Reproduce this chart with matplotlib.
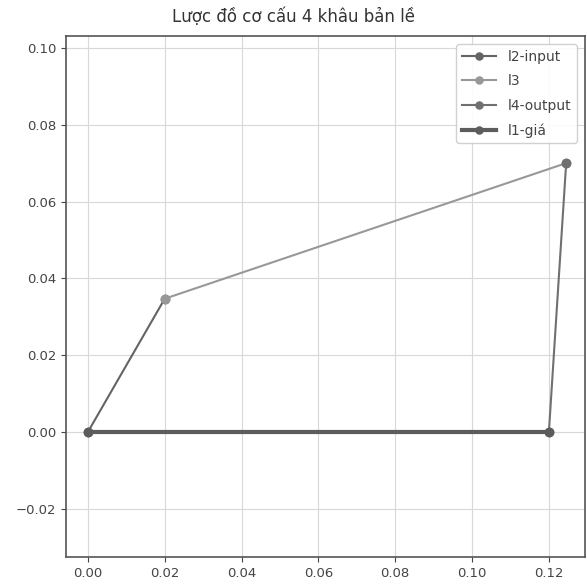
import numpy as np
import matplotlib.pyplot as plt

# toa do cac khop (m)
A = (0.0, 0.0)
B = (0.02, 0.0347)
C = (0.1245, 0.07)
D = (0.12, 0.0)

links = ['l2-input', 'l3', 'l4-output', 'l1-giá']
pairs = [(A, B), (B, C), (C, D), (D, A)]
colors = ['#646464', '#989898', '#707070', '#5c5c5c']
widths = [1.5, 1.5, 1.5, 3.0]

fig = plt.figure(figsize=(5.87, 5.88), dpi=100)
ax = fig.add_axes([66 / 587, 31 / 588, 519 / 587, 521 / 588])

for name, (p, q), c, w in zip(links, pairs, colors, widths):
    ax.plot([p[0], q[0]], [p[1], q[1]], '-o', color=c, lw=w, ms=6, label=name)

ax.set_xlim(-0.0057, 0.1294)
ax.set_ylim(-0.03255, 0.1031)
ax.set_xticks(np.arange(0, 0.121, 0.02))
ax.set_yticks(np.arange(-0.02, 0.101, 0.02))
ax.tick_params(labelsize=9.5, colors='#444444')
ax.grid(True, color='#d8d8d8')
for s in ax.spines.values():
    s.set_color('#555555')
    s.set_linewidth(1.2)
fig.text(0.5, 1 - 17 / 588, 'Lược đồ cơ cấu 4 khâu bản lề', fontsize=12,
         color='#333333', ha='center', va='center')
ax.legend(loc='upper right', fontsize=10, handlelength=2.5, markerscale=0.85,
          labelspacing=0.75, labelcolor='#444444', framealpha=0.9,
          borderaxespad=0.6)

fig.savefig('out.png')
